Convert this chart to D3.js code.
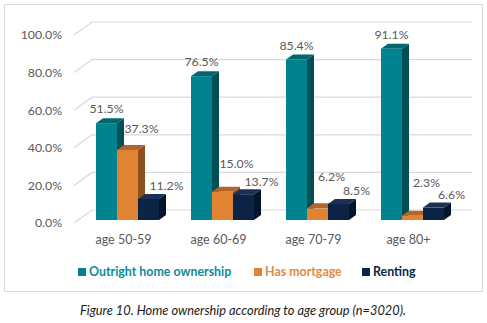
<!DOCTYPE html>
<html>
<head>
<meta charset="utf-8">
<script src="https://cdn.jsdelivr.net/npm/d3@7"></script>
<style>
  html, body { margin: 0; padding: 0; background: #fff; }
  svg { display: block; font-family: Lato, "Open Sans", sans-serif; }
</style>
</head>
<body>
<svg id="chart" width="487" height="323"></svg>
<script>
// Age groups and the share of each housing situation (%)
const categories = ["age 50-59", "age 60-69", "age 70-79", "age 80+"];
const seriesNames = ["Outright home ownership", "Has mortgage", "Renting"];
const outright = [51.5, 76.5, 85.4, 91.1];
const mortgage = [37.3, 15.0, 6.2, 2.3];
const renting = [11.2, 13.7, 8.5, 6.6];
const yTicks = [0, 20, 40, 60, 80, 100];
const caption = "Figure 10. Home ownership according to age group (n=3020).";

const seriesValues = [outright, mortgage, renting];

// face colours per series: front, top, side
const palette = [
  { front: "#00838F", top: "#00676F", side: "#004F57", text: "#0E8A9A" },
  { front: "#E08434", top: "#B2652A", side: "#8E4F1E", text: "#E08A42" },
  { front: "#0B2446", top: "#1B3153", side: "#041429", text: "#0B2446" }
];

const svg = d3.select("#chart");

// outer frame
svg.append("rect")
  .attr("x", 4.5).attr("y", 4.5)
  .attr("width", 478).attr("height", 287)
  .attr("fill", "#fff").attr("stroke", "#D9D9D9").attr("stroke-width", 1);

// geometry of the 3D plot box
const wallDX = 18;                  // depth of the floor (front -> back wall)
const barDX = 7, barDY = 5;         // depth of each bar
const y = d3.scaleLinear().domain([0, 100]).range([220, 32]);
const frontOff = 3;                 // front edge sits a bit below the bar base
const backOff = -10;                // back wall sits above the bar base
const x = d3.scaleBand().domain(categories).range([74, 454]);
const inner = d3.scaleBand().domain(seriesNames).range([0, 63]);
const barStart = 22;

// gridlines: diagonal on the left side wall + horizontal on the back wall
const grid = svg.append("g").attr("stroke", "#D9D9D9").attr("stroke-width", 1.2).attr("fill", "none");
yTicks.forEach(t => {
  const yf = y(t) + frontOff, yb = y(t) + backOff;
  grid.append("path")
    .attr("d", `M${x.range()[0]},${yf}L${x.range()[0] + wallDX},${yb}L${x.range()[1] + wallDX},${yb}`);
});

// y tick labels
svg.append("g")
  .selectAll("text").data(yTicks).join("text")
  .attr("x", 62).attr("y", d => y(d) + frontOff)
  .attr("dy", "0.35em")
  .attr("text-anchor", "end")
  .attr("font-size", 12.3)
  .attr("fill", "#595959")
  .text(d => d3.format(".1f")(d) + "%");

// bars, one group per age band
const bars = [];
categories.forEach((c, i) => {
  seriesNames.forEach((s, j) => {
    bars.push({ cat: c, series: s, j, value: seriesValues[j][i] });
  });
});

const barG = svg.append("g");
bars.forEach(b => {
  const x0 = x(b.cat) + barStart + inner(b.series);
  const x1 = x0 + inner.bandwidth();
  const yTop = y(b.value), yBase = y(0);
  const col = palette[b.j];
  const g = barG.append("g");
  // side face
  g.append("path")
    .attr("d", `M${x1},${yBase}L${x1 + barDX},${yBase - barDY}L${x1 + barDX},${yTop - barDY}L${x1},${yTop}Z`)
    .attr("fill", col.side);
  // top face
  g.append("path")
    .attr("d", `M${x0},${yTop}L${x0 + barDX},${yTop - barDY}L${x1 + barDX},${yTop - barDY}L${x1},${yTop}Z`)
    .attr("fill", col.top);
  // front face
  g.append("rect")
    .attr("x", x0).attr("y", yTop)
    .attr("width", inner.bandwidth()).attr("height", yBase - yTop)
    .attr("fill", col.front);
});

// value labels, placed per series so they clear the neighbouring bars
const labelDX = [0, 14, 18];
const labelY = [
  t => t - 14,
  t => 6 + 0.82 * t,      // mortgage labels float higher above the short bars
  t => t - 13
];
svg.append("g")
  .selectAll("text").data(bars).join("text")
  .attr("x", b => x(b.cat) + barStart + inner(b.series) + inner.bandwidth() / 2 + labelDX[b.j])
  .attr("y", b => labelY[b.j](y(b.value)))
  .attr("dy", "0.35em")
  .attr("text-anchor", "middle")
  .attr("font-size", 12.3)
  .attr("fill", "#595959")
  .text(b => d3.format(".1f")(b.value) + "%");

// category labels
svg.append("g")
  .selectAll("text").data(categories).join("text")
  .attr("x", d => x(d) + x.bandwidth() / 2 + 2)
  .attr("y", 240)
  .attr("dy", "0.35em")
  .attr("text-anchor", "middle")
  .attr("font-size", 12.5)
  .attr("fill", "#595959")
  .text(d => d);

// legend
const legendX = [78, 254, 362];
const legend = svg.append("g");
seriesNames.forEach((s, j) => {
  legend.append("rect")
    .attr("x", legendX[j]).attr("y", 268)
    .attr("width", 8).attr("height", 8)
    .attr("fill", palette[j].front);
  legend.append("text")
    .attr("x", legendX[j] + 11).attr("y", 272)
    .attr("dy", "0.35em")
    .attr("font-size", 12.4)
    .attr("font-weight", "bold")
    .attr("fill", palette[j].text)
    .text(s);
});

// figure caption
svg.append("text")
  .attr("x", 243).attr("y", 311)
  .attr("dy", "0.35em")
  .attr("text-anchor", "middle")
  .attr("font-size", 12.8)
  .attr("font-style", "italic")
  .attr("fill", "#1a1a1a")
  .text(caption);
</script>
</body>
</html>
